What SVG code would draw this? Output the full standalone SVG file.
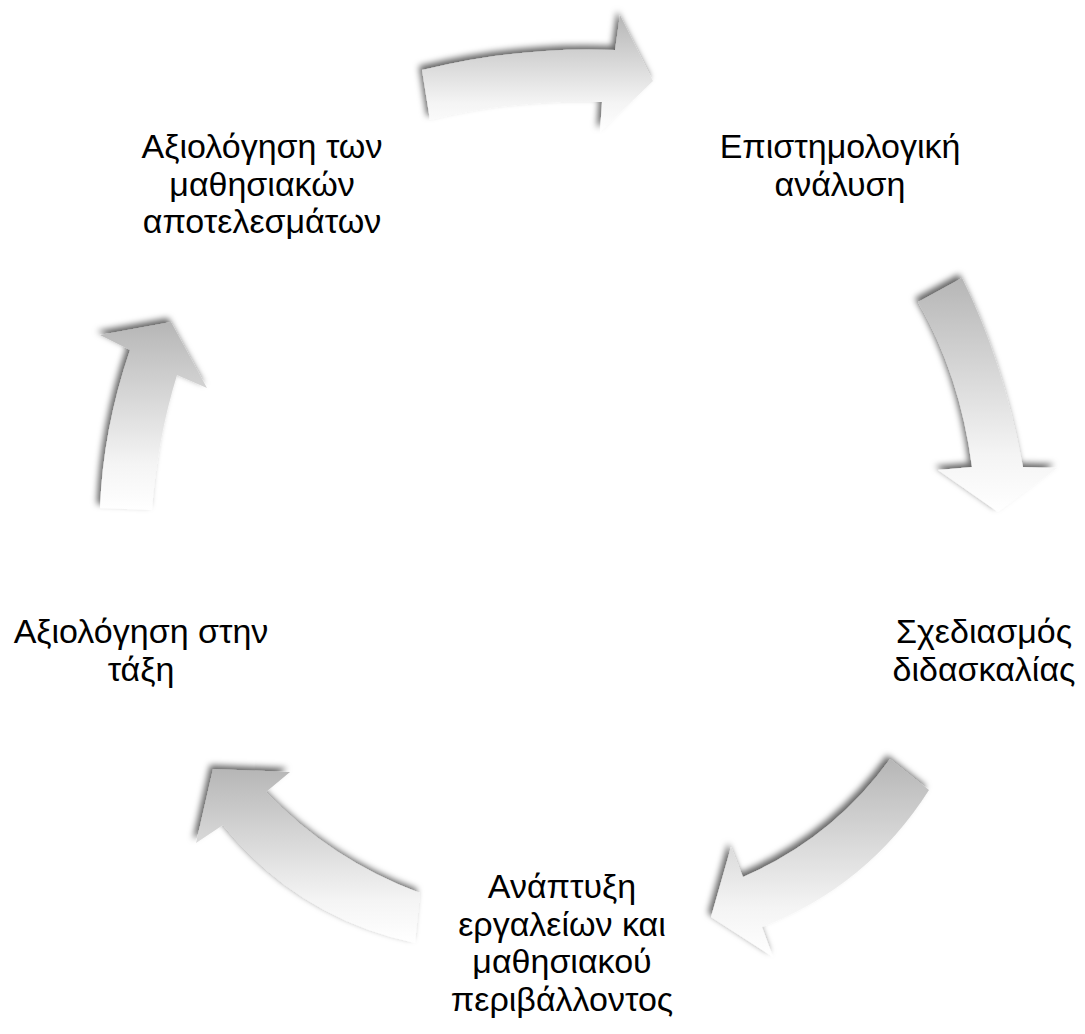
<svg xmlns="http://www.w3.org/2000/svg" width="1085" height="1034" viewBox="0 0 1085 1034">
<style>
text{font-family:"Liberation Sans",Arial,sans-serif;font-size:34px;fill:#000;text-anchor:middle}
.arr{fill:url(#g);filter:url(#sh)}
</style>
<defs>
<linearGradient id="g" x1="0" y1="0" x2="0" y2="1">
<stop offset="0" stop-color="#b6b6b6"/>
<stop offset="0.75" stop-color="#f4f4f4"/>
<stop offset="1" stop-color="#ffffff"/>
</linearGradient>
<filter id="sh" x="-20%" y="-20%" width="140%" height="140%">
<feGaussianBlur in="SourceAlpha" stdDeviation="3"/>
<feOffset dx="-3" dy="-4" result="b"/>
<feFlood flood-color="#000" flood-opacity="0.6"/>
<feComposite in2="b" operator="in"/>
<feMerge><feMergeNode/><feMergeNode in="SourceGraphic"/></feMerge>
</filter>
</defs>
<rect width="1085" height="1034" fill="#fff"/>
<g id="connectors">
<path id="arrow1" class="arr" d="M422,70 Q520,46 615,50 L620,15 L653,81 L600,132 L602,102 Q515,99 430,120 Z"/>
<path id="arrow2" class="arr" d="M962,278 Q1003,360 1023,467 L1057,468 L998,512 L938,470 L972,467 Q960,375 918,302 Z"/>
<path id="arrow3" class="arr" d="M929,790 Q868,886 762,927 L773,957 L711,917 L731,847 L743,877 Q833,838 890,759 Z"/>
<path id="arrow4" class="arr" d="M420,893 Q331,860 266,792 L290,772 L213,769 L196,843 L223,825 Q298,918 415,943 Z"/>
<path id="arrow5" class="arr" d="M100,508 Q103,429 130,350 L100,335 L171,322 L207,388 L177,375 Q157,440 152,510 Z"/>
</g>
<g id="node1"><text x="840" y="158">Επιστημολογική</text><text x="840" y="195.5">ανάλυση</text></g>
<g id="node2"><text x="984" y="643">Σχεδιασμός</text><text x="984" y="680.5">διδασκαλίας</text></g>
<g id="node3"><text x="562" y="898">Ανάπτυξη</text><text x="562" y="935.5">εργαλείων και</text><text x="562" y="973">μαθησιακού</text><text x="562" y="1010.5">περιβάλλοντος</text></g>
<g id="node4"><text x="141" y="643">Αξιολόγηση στην</text><text x="141" y="680.5">τάξη</text></g>
<g id="node5"><text x="262" y="158">Αξιολόγηση των</text><text x="262" y="195.5">μαθησιακών</text><text x="262" y="233">αποτελεσμάτων</text></g>
</svg>
